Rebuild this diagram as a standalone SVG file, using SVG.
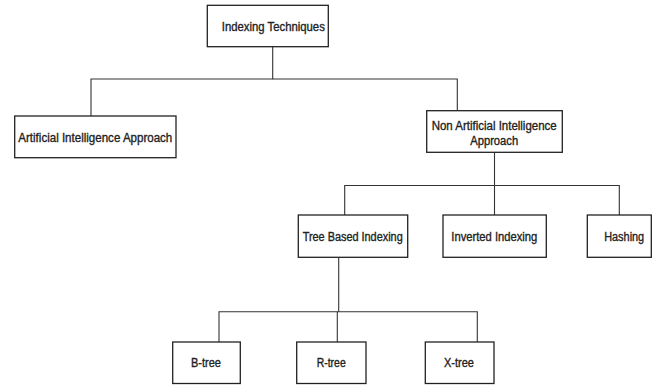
<svg xmlns="http://www.w3.org/2000/svg" width="666" height="385" viewBox="0 0 666 385">
<style>
.box{fill:#fff;stroke:#222;stroke-width:1.3}
.lbl{font-family:"Liberation Sans",Arial,sans-serif;font-size:12.5px;fill:#222;stroke:#222;stroke-width:0.35;text-anchor:middle;dominant-baseline:central}
.con{fill:none;stroke:#333;stroke-width:1.1}
</style>
<rect width="666" height="385" fill="#fff"/>
<g id="connectors">
<path class="con" d="M272.7 46.7V79H91V116"/>
<path class="con" d="M272.7 79H457.3V110.7"/>
<path class="con" d="M494.5 152.3V185.5"/>
<path class="con" d="M344.7 215V185.5H619.3V215"/>
<path class="con" d="M494.5 185.5V215"/>
<path class="con" d="M338.7 257.3V311.7"/>
<path class="con" d="M219 342V311.7H477.3V342"/>
<path class="con" d="M337.3 311.7V342"/>
</g>
<g id="n-root"><rect class="box" x="207.3" y="5.3" width="121" height="41.4"/><text class="lbl" x="273.3" y="27.3" textLength="103" lengthAdjust="spacingAndGlyphs">Indexing Techniques</text></g>
<g id="n-ai"><rect class="box" x="14.7" y="116" width="161.3" height="41.7"/><text class="lbl" x="95.3" y="138.3" textLength="154" lengthAdjust="spacingAndGlyphs">Artificial Intelligence Approach</text></g>
<g id="n-nonai"><rect class="box" x="426.7" y="110.7" width="135.6" height="41.6"/><text class="lbl" x="494.2" y="125.7" textLength="125" lengthAdjust="spacingAndGlyphs">Non Artificial Intelligence</text><text class="lbl" x="494.2" y="140.7" textLength="48" lengthAdjust="spacingAndGlyphs">Approach</text></g>
<g id="n-tree"><rect class="box" x="298.3" y="215" width="109.4" height="42.3"/><text class="lbl" x="352.7" y="236.7" textLength="100" lengthAdjust="spacingAndGlyphs">Tree Based Indexing</text></g>
<g id="n-inverted"><rect class="box" x="443" y="215" width="103.3" height="42.3"/><text class="lbl" x="494.3" y="236.7" textLength="86" lengthAdjust="spacingAndGlyphs">Inverted Indexing</text></g>
<g id="n-hashing"><rect class="box" x="587.3" y="215" width="64" height="42.3"/><text class="lbl" x="624.2" y="236.7" textLength="40" lengthAdjust="spacingAndGlyphs">Hashing</text></g>
<g id="n-btree"><rect class="box" x="172.7" y="342" width="67.6" height="41.5"/><text class="lbl" x="206" y="363.3" textLength="30" lengthAdjust="spacingAndGlyphs">B-tree</text></g>
<g id="n-rtree"><rect class="box" x="296.7" y="342" width="69.3" height="41.5"/><text class="lbl" x="331.2" y="363.3" textLength="29" lengthAdjust="spacingAndGlyphs">R-tree</text></g>
<g id="n-xtree"><rect class="box" x="425.3" y="342" width="68.7" height="41.5"/><text class="lbl" x="459" y="363.3" textLength="30" lengthAdjust="spacingAndGlyphs">X-tree</text></g>
</svg>
